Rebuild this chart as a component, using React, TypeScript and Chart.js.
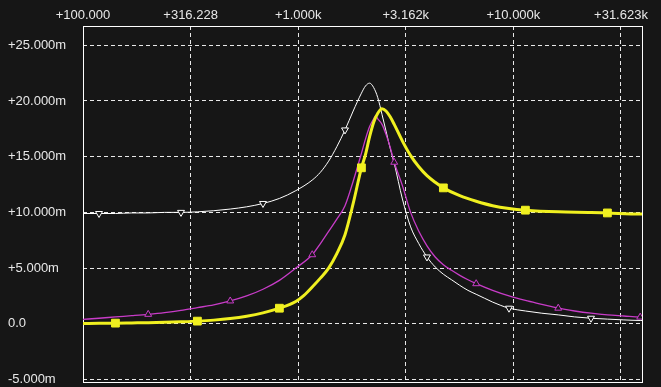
import React, { useEffect, useRef } from 'react';
import { Chart, registerables } from 'chart.js';

Chart.register(...registerables);

// Axis ticks
const xTickValues = [100, 316.228, 1000, 3162.28, 10000, 31622.8];
const yTickValues = [-5, 0, 5, 10, 15, 20, 25];

// Yellow series (thick, square markers)
const yellowFreq = [100, 118.7, 141.5, 168.5, 200.9, 239.4, 285.4, 340.1, 405.3, 483.1, 575.8, 686.1, 817.6, 974.6, 1064, 1162, 1268, 1385, 1512, 1650, 1801, 1967, 2055, 2147, 2243, 2343, 2451, 2559, 2671, 2794, 3050, 3330, 3634, 3967, 4331, 4727, 5634, 6715, 8003, 9541, 11370, 16156, 22940, 27340, 38830, 39590];
const yellowVals = [0.03, 0.05, 0.06, 0.08, 0.1, 0.13, 0.18, 0.24, 0.33, 0.47, 0.68, 0.98, 1.4, 2.0, 2.55, 3.3, 4.1, 5.0, 6.3, 8.0, 10.8, 14.0, 15.2, 16.8, 18.1, 18.9, 19.3, 19.1, 18.6, 17.9, 16.4, 15.1, 14.1, 13.3, 12.7, 12.2, 11.5, 11.0, 10.6, 10.35, 10.2, 10.05, 10.0, 9.95, 9.85, 9.85];
const yellowMarkers = [141.5, 340.1, 817.6, 1967, 4727, 11370, 27340];

// Magenta series (up-triangle markers)
const magentaFreq = [100, 118.7, 141.5, 168.5, 200.9, 239.4, 285.4, 340.1, 405.3, 483.1, 575.8, 686.1, 817.6, 974.6, 1162, 1268, 1385, 1512, 1650, 1801, 1967, 2055, 2147, 2243, 2289, 2343, 2451, 2559, 2671, 2794, 3050, 3330, 3634, 3967, 4331, 4727, 5161, 5634, 6151, 6715, 8003, 9541, 11370, 13552, 16156, 19250, 22940, 27340, 32590, 38830, 39590];
const magentaVals = [0.4, 0.5, 0.62, 0.73, 0.85, 1.0, 1.2, 1.45, 1.7, 2.05, 2.5, 3.1, 3.9, 5.0, 6.2, 7.2, 8.3, 9.4, 10.6, 12.8, 15.3, 16.6, 17.7, 18.4, 18.65, 18.4, 17.9, 17.0, 15.9, 14.5, 12.4, 10.0, 8.3, 7.0, 6.0, 5.3, 4.8, 4.35, 3.95, 3.6, 3.0, 2.5, 2.1, 1.75, 1.4, 1.15, 0.95, 0.8, 0.7, 0.6, 0.58];
const magentaMarkers = [200.9, 483.1, 1162, 2794, 6715, 16156, 38830];

// White series (down-triangle markers)
const whiteFreq = [100, 118.7, 141.5, 168.5, 200.9, 239.4, 285.4, 340.1, 405.3, 483.1, 575.8, 686.1, 817.6, 974.6, 1162, 1268, 1385, 1512, 1650, 1801, 1967, 2055, 2147, 2243, 2343, 2451, 2559, 2671, 2794, 3050, 3330, 3634, 3967, 4331, 4727, 5161, 5634, 6151, 6715, 7331, 8003, 8737, 9541, 11370, 13552, 16156, 19250, 22940, 27340, 32590, 38830, 39590];
const whiteVals = [9.9, 9.9, 9.9, 9.95, 9.95, 10.0, 10.0, 10.05, 10.15, 10.3, 10.5, 10.8, 11.25, 11.95, 12.9, 13.6, 14.6, 15.9, 17.4, 19.1, 20.7, 21.35, 21.6, 21.2, 20.3, 18.8, 17.3, 15.8, 14.4, 11.2, 8.7, 7.2, 6.0, 5.1, 4.45, 3.95, 3.45, 3.0, 2.65, 2.3, 1.95, 1.65, 1.4, 1.15, 0.95, 0.8, 0.62, 0.5, 0.42, 0.35, 0.3, 0.3];
const whiteMarkers = [118.7, 285.4, 686.1, 1650, 3967, 9541, 22940];

const BG = '#161616';
const FONT = "'Liberation Sans', Arial, sans-serif";

function toPoints(freq: number[], vals: number[]) {
  return freq.map((f, i) => ({ x: f, y: vals[i] }));
}

function markerRadius(markers: number[], r: number) {
  return (ctx: any) => (ctx.raw && markers.includes(ctx.raw.x) ? r : 0);
}

function fmtX(v: number) {
  if (v >= 1000) return '+' + (v / 1000).toFixed(3) + 'k';
  return '+' + v.toFixed(3);
}

function fmtY(v: number) {
  if (v === 0) return '0.0';
  return (v > 0 ? '+' : '') + v.toFixed(3) + 'm';
}

const framePlugin = {
  id: 'frame',
  beforeDraw(chart: any) {
    const ctx = chart.ctx;
    ctx.save();
    ctx.fillStyle = BG;
    ctx.fillRect(0, 0, chart.width, chart.height);
    ctx.restore();
  },
  beforeDatasetsDraw(chart: any) {
    const { left, top, right, bottom } = chart.chartArea;
    const ctx = chart.ctx;
    ctx.save();
    ctx.strokeStyle = '#ffffff';
    ctx.lineWidth = 1;
    ctx.setLineDash([]);
    ctx.strokeRect(Math.round(left) + 0.5, Math.round(top) + 0.5, Math.round(right - left), Math.round(bottom - top));
    ctx.restore();
  },
};

export default function App() {
  const ref = useRef<HTMLCanvasElement>(null);

  useEffect(() => {
    document.body.style.margin = '0';
    document.body.style.background = BG;
    const canvas = ref.current!;
    const chart = new Chart(canvas, {
      type: 'line',
      data: {
        datasets: [
          {
            label: 'yellow',
            data: toPoints(yellowFreq, yellowVals),
            borderColor: '#f0f020',
            backgroundColor: '#f0f020',
            borderWidth: 3,
            pointStyle: 'rect',
            pointRadius: markerRadius(yellowMarkers, 5.5),
            pointBorderWidth: 1,
            pointBorderColor: '#f0f020',
            pointBackgroundColor: '#f0f020',
            cubicInterpolationMode: 'monotone',
            fill: false,
          },
          {
            label: 'magenta',
            data: toPoints(magentaFreq, magentaVals),
            borderColor: '#c83cc8',
            backgroundColor: BG,
            borderWidth: 1.3,
            pointStyle: 'triangle',
            pointRadius: markerRadius(magentaMarkers, 4),
            pointBorderWidth: 1,
            pointBorderColor: '#c83cc8',
            pointBackgroundColor: BG,
            cubicInterpolationMode: 'monotone',
            fill: false,
          },
          {
            label: 'white',
            data: toPoints(whiteFreq, whiteVals),
            borderColor: '#ffffff',
            backgroundColor: BG,
            borderWidth: 1,
            pointStyle: 'triangle',
            pointRotation: 180,
            pointRadius: markerRadius(whiteMarkers, 4),
            pointBorderWidth: 1,
            pointBorderColor: '#ffffff',
            pointBackgroundColor: BG,
            cubicInterpolationMode: 'monotone',
            fill: false,
          },
        ],
      },
      options: {
        responsive: false,
        animation: false,
        devicePixelRatio: 1,
        events: [],
        layout: { padding: { left: 8, right: 19, top: 0, bottom: 5 } },
        plugins: {
          legend: { display: false },
          tooltip: { enabled: false },
          title: { display: false },
        },
        scales: {
          x: {
            type: 'logarithmic',
            position: 'top',
            min: 100,
            max: 39590,
            afterBuildTicks: (scale: any) => {
              scale.ticks = xTickValues.map((v) => ({ value: v }));
            },
            afterFit: (scale: any) => {
              scale.height = 26;
              scale.paddingLeft = 0;
              scale.paddingRight = 0;
            },
            ticks: {
              autoSkip: false,
              maxRotation: 0,
              minRotation: 0,
              padding: 3,
              color: '#e8e8e8',
              font: { family: FONT, size: 13 },
              callback: (v: any) => fmtX(Number(v)),
            },
            grid: {
              color: 'rgba(255,255,255,0.9)',
              lineWidth: 1,
              drawTicks: false,
            },
            border: { display: false, dash: [4, 3] },
          },
          y: {
            type: 'linear',
            position: 'left',
            min: -5.224,
            max: 26.73,
            afterBuildTicks: (scale: any) => {
              scale.ticks = yTickValues.map((v) => ({ value: v }));
            },
            afterFit: (scale: any) => {
              scale.width = 75;
              scale.paddingTop = 0;
              scale.paddingBottom = 0;
            },
            ticks: {
              autoSkip: false,
              crossAlign: 'far',
              padding: 0,
              color: '#e8e8e8',
              font: { family: FONT, size: 13 },
              callback: (v: any) => fmtY(Number(v)),
            },
            grid: {
              color: 'rgba(255,255,255,0.9)',
              lineWidth: 1,
              drawTicks: false,
            },
            border: { display: false, dash: [4, 3] },
          },
        },
      },
      plugins: [framePlugin],
    } as any);
    return () => chart.destroy();
  }, []);

  return (
    <div style={{ position: 'absolute', left: 0, top: 0, width: 661, height: 387, background: BG }}>
      <canvas ref={ref} width={661} height={387} style={{ display: 'block', width: 661, height: 387 }} />
    </div>
  );
}
